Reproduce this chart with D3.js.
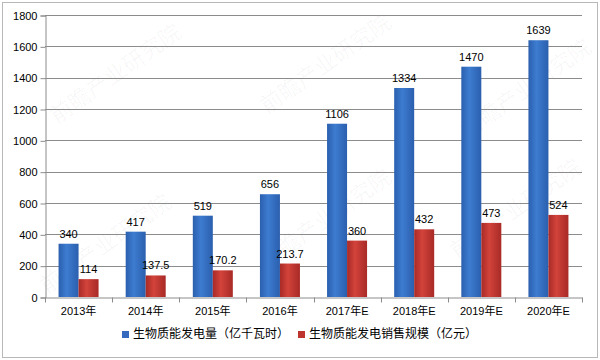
<!DOCTYPE html>
<html lang="zh">
<head>
<meta charset="utf-8">
<title>生物质能发电</title>
<script src="https://cdn.jsdelivr.net/npm/d3@7"></script>
<style>
  body { margin: 0; background: #fff; }
  text { font-family: "Liberation Sans", Arial, "Noto Sans CJK SC", sans-serif; }
</style>
</head>
<body>
<script>
// data
var categories = ["2013年", "2014年", "2015年", "2016年", "2017年E", "2018年E", "2019年E", "2020年E"];
var powerGen = [340, 417, 519, 656, 1106, 1334, 1470, 1639];
var salesScale = [114, 137.5, 170.2, 213.7, 360, 432, 473, 524];
var powerLabels = ["340", "417", "519", "656", "1106", "1334", "1470", "1639"];
var salesLabels = ["114", "137.5", "170.2", "213.7", "360", "432", "473", "524"];
var seriesNames = ["生物质能发电量（亿千瓦时）", "生物质能发电销售规模（亿元）"];
var yTicks = [0, 200, 400, 600, 800, 1000, 1200, 1400, 1600, 1800];

var W = 600, H = 360;
// plot area (avoid "top" — it is a read-only window global)
var pLeft = 45, pRight = 582, pTop = 15, pBottom = 297;

var svg = d3.select("body").append("svg")
  .attr("width", W).attr("height", H);

// outer frame
svg.append("rect")
  .attr("x", 2.5).attr("y", 2.5)
  .attr("width", W - 5).attr("height", H - 5)
  .attr("fill", "#fff").attr("stroke", "#b8b8b8");

// gradients for bars
var defs = svg.append("defs");
function grad(id, dark, light) {
  var g = defs.append("linearGradient").attr("id", id)
    .attr("x1", "0%").attr("x2", "100%").attr("y1", "0%").attr("y2", "0%");
  g.append("stop").attr("offset", "0%").attr("stop-color", dark);
  g.append("stop").attr("offset", "40%").attr("stop-color", light);
  g.append("stop").attr("offset", "100%").attr("stop-color", dark);
}
grad("blueG", "#2b5fae", "#3d7cd0");
grad("redG", "#a82a26", "#d2433b");

// faint watermarks
var marks = [[120, 80], [330, 70], [530, 95], [110, 250], [330, 225], [520, 215]];
svg.selectAll(".wm").data(marks).enter().append("text")
  .attr("class", "wm")
  .attr("transform", function(d) { return "translate(" + d[0] + "," + d[1] + ") rotate(-35)"; })
  .attr("text-anchor", "middle")
  .attr("font-family", "Noto Sans CJK SC")
  .attr("font-size", 22)
  .attr("fill", "#000").attr("fill-opacity", 0.035)
  .text("前瞻产业研究院");

var x = d3.scaleBand().domain(categories).range([pLeft, pRight]);
var y = d3.scaleLinear().domain([0, 1800]).range([pBottom, pTop]);

// gridlines
svg.append("g").selectAll("line").data(yTicks.slice(1)).enter().append("line")
  .attr("x1", pLeft).attr("x2", pRight)
  .attr("y1", function(d) { return Math.round(y(d)) + 0.5; })
  .attr("y2", function(d) { return Math.round(y(d)) + 0.5; })
  .attr("stroke", "#8c8c8c").attr("stroke-width", 1);

// y axis
var yAxis = svg.append("g")
  .attr("transform", "translate(" + (pLeft + 0.5) + ",0.5)")
  .call(d3.axisLeft(y).tickValues(yTicks).tickSize(5).tickPadding(3).tickFormat(d3.format("d")));
yAxis.select(".domain").attr("stroke", "#8c8c8c");
yAxis.selectAll(".tick line").attr("stroke", "#8c8c8c");
yAxis.selectAll(".tick text").attr("font-size", 11).attr("fill", "#000")
  .attr("font-family", "Liberation Sans, Arial, sans-serif");

var bw = 20;
function gx(c) { return x(c) + x.bandwidth() / 2 - bw; }

// bars
svg.append("g").selectAll("rect").data(powerGen).enter().append("rect")
  .attr("x", function(d, i) { return gx(categories[i]); })
  .attr("y", function(d) { return y(d); })
  .attr("width", bw)
  .attr("height", function(d) { return y(0) - y(d); })
  .attr("fill", "url(#blueG)");

svg.append("g").selectAll("rect").data(salesScale).enter().append("rect")
  .attr("x", function(d, i) { return gx(categories[i]) + bw; })
  .attr("y", function(d) { return y(d); })
  .attr("width", bw)
  .attr("height", function(d) { return y(0) - y(d); })
  .attr("fill", "url(#redG)");

// x axis
var xAxis = svg.append("g")
  .attr("transform", "translate(0," + (pBottom + 0.5) + ")")
  .call(d3.axisBottom(x).tickSize(0).tickPadding(10));
xAxis.select(".domain").attr("stroke", "#8c8c8c");
xAxis.selectAll(".tick text").attr("font-size", 11).attr("fill", "#000")
  .attr("font-family", "Liberation Sans, Arial, Noto Sans CJK SC, sans-serif");
xAxis.append("g").selectAll("line").data(d3.range(categories.length + 1)).enter().append("line")
  .attr("x1", function(i) { return Math.round(pLeft + i * x.bandwidth()) + 0.5; })
  .attr("x2", function(i) { return Math.round(pLeft + i * x.bandwidth()) + 0.5; })
  .attr("y1", 0).attr("y2", 5)
  .attr("stroke", "#8c8c8c");

// value labels
svg.append("g").selectAll("text").data(powerGen).enter().append("text")
  .attr("x", function(d, i) { return gx(categories[i]) + bw / 2; })
  .attr("y", function(d) { return y(d) - 6; })
  .attr("text-anchor", "middle").attr("font-size", 11).attr("fill", "#000")
  .text(function(d, i) { return powerLabels[i]; });

svg.append("g").selectAll("text").data(salesScale).enter().append("text")
  .attr("x", function(d, i) { return gx(categories[i]) + bw * 1.5; })
  .attr("y", function(d) { return y(d) - 6; })
  .attr("text-anchor", "middle").attr("font-size", 11).attr("fill", "#000")
  .text(function(d, i) { return salesLabels[i]; });

// legend
var legendX = [122, 298];
var colors = ["#3569bd", "#be3530"];
var lg = svg.append("g").selectAll("g").data(seriesNames).enter().append("g")
  .attr("transform", function(d, i) { return "translate(" + legendX[i] + ",338)"; });
lg.append("rect").attr("x", 0).attr("y", -7).attr("width", 7).attr("height", 7)
  .attr("fill", function(d, i) { return colors[i]; });
lg.append("text").attr("x", 11).attr("y", 0)
  .attr("font-family", "Noto Sans CJK SC").attr("font-size", 12).attr("fill", "#000")
  .text(function(d) { return d; });
</script>
</body>
</html>
